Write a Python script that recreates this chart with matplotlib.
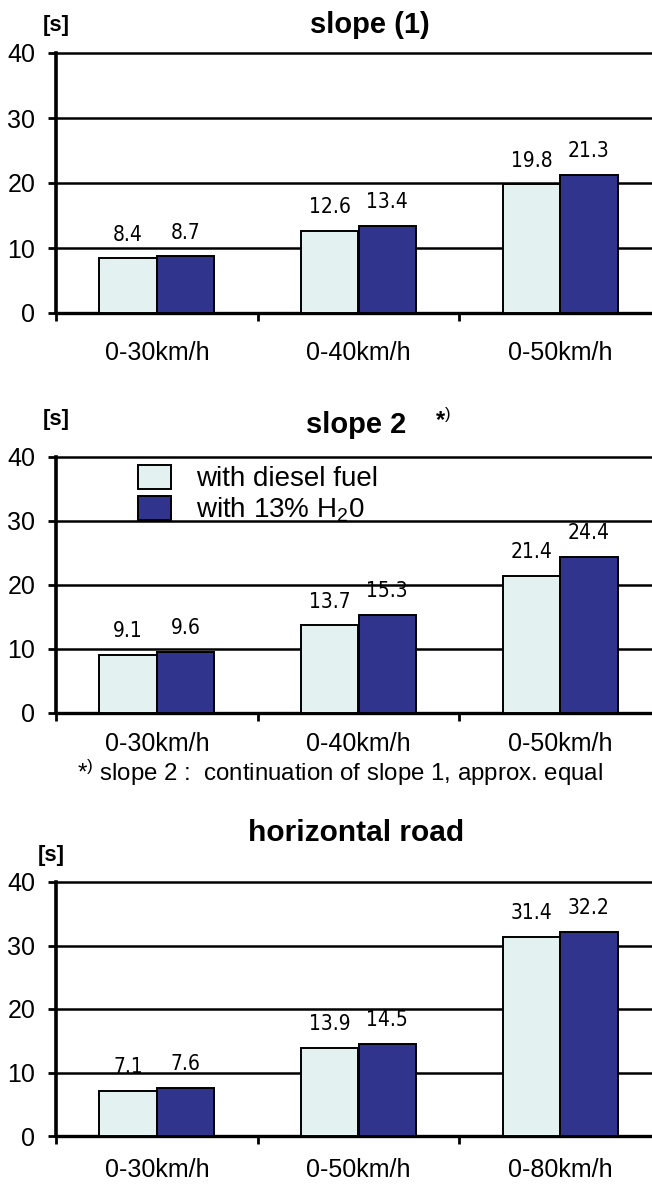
import matplotlib.pyplot as plt
import matplotlib.font_manager as fm
import numpy as np

plt.rcParams['font.family'] = ['Liberation Sans', 'DejaVu Sans']
plt.rcParams['mathtext.fontset'] = 'custom'
plt.rcParams['mathtext.rm'] = 'Liberation Sans'
plt.rcParams['mathtext.it'] = 'Liberation Sans:italic'
plt.rcParams['mathtext.bf'] = 'Liberation Sans:bold'

# datos
cats_slope = ['0-30km/h', '0-40km/h', '0-50km/h']
cats_horiz = ['0-30km/h', '0-50km/h', '0-80km/h']
slope1_diesel = [8.4, 12.6, 19.8]
slope1_h2o = [8.7, 13.4, 21.3]
slope2_diesel = [9.1, 13.7, 21.4]
slope2_h2o = [9.6, 15.3, 24.4]
horiz_diesel = [7.1, 13.9, 31.4]
horiz_h2o = [7.6, 14.5, 32.2]
yticks = [0, 10, 20, 30, 40]
series_names = ['with diesel fuel', 'with 13% H$_{2}$0']

c_light = '#e3f1f1'
c_dark = '#30348c'

# fuente estrecha para los valores de las barras
narrow_fp = None
for key, size in (('LiberationSansNarrow-Regular', 17), ('DejaVuSansCondensed.ttf', 15)):
    hits = [f.fname for f in fm.fontManager.ttflist if key in f.fname]
    if hits:
        narrow_fp = fm.FontProperties(fname=hits[0], size=size)
        break
if narrow_fp is None:
    narrow_fp = fm.FontProperties(family='Liberation Sans', size=14)

W, H = 652, 1184
fig = plt.figure(figsize=(W / 100, H / 100), dpi=100)


def panel(top_px, bottom_px, cats, v1, v2, label_pad):
    left_px, right_px = 56, 661
    ax = fig.add_axes([left_px / W, 1 - bottom_px / H,
                       (right_px - left_px) / W, (bottom_px - top_px) / H])
    x = np.arange(len(cats))
    w = 0.285
    b1 = ax.bar(x - w / 2, v1, w, color=c_light, edgecolor='black', linewidth=1.4, zorder=3)
    b2 = ax.bar(x + w / 2, v2, w, color=c_dark, edgecolor='black', linewidth=1.4, zorder=3)
    for bars, vals in ((b1, v1), (b2, v2)):
        for r, v in zip(bars, vals):
            ax.annotate(f'{v:.1f}', (r.get_x() + r.get_width() / 2, v),
                        xytext=(0, 17), textcoords='offset points',
                        ha='center', va='center', fontproperties=narrow_fp, zorder=2)
    ax.set_xlim(-0.5, 2.5)
    ax.set_ylim(0, 40)
    ax.set_yticks(yticks)
    ax.tick_params(axis='y', labelsize=18, length=6, width=2, pad=9)
    ax.set_xticks(x)
    ax.set_xticklabels(cats, fontsize=18)
    ax.set_xticks([-0.5, 0.5, 1.5, 2.5], minor=True)
    ax.tick_params(axis='x', which='major', length=0, pad=label_pad)
    ax.tick_params(axis='x', which='minor', length=6, width=2)
    ax.grid(axis='y', color='black', linewidth=1.8, zorder=0)
    for gl in ax.get_ygridlines():
        gl.set_clip_on(False)
    ax.set_axisbelow(True)
    for s in ['top', 'right']:
        ax.spines[s].set_visible(False)
    ax.spines['left'].set_linewidth(2.6)
    ax.spines['bottom'].set_linewidth(2.4)
    return ax, b1, b2


ax1, _, _ = panel(53, 313, cats_slope, slope1_diesel, slope1_h2o, 20)
ax2, h1, h2 = panel(457, 713, cats_slope, slope2_diesel, slope2_h2o, 14)
ax3, _, _ = panel(882, 1136, cats_horiz, horiz_diesel, horiz_h2o, 16)

ax2.legend([h1, h2], series_names, loc='upper left', bbox_to_anchor=(0.135, 0.97),
           frameon=False, fontsize=20, handlelength=1.2, handleheight=0.95,
           handletextpad=0.9, labelspacing=0.12, borderpad=0, borderaxespad=0)


def fig_text(xp, yp, s, **kw):
    fig.text(xp / W, 1 - yp / H, s, ha='center', va='center', **kw)


fig_text(370, 25, 'slope (1)', fontsize=21, fontweight='bold')
fig_text(356, 425, 'slope 2', fontsize=21, fontweight='bold')
fig_text(443, 419, r'*$^{)}$', fontsize=17, fontweight='bold')
fig_text(356, 833, 'horizontal road', fontsize=21.5, fontweight='bold')
fig_text(56, 25, '[s]', fontsize=16, fontweight='bold')
fig_text(56, 420, '[s]', fontsize=16, fontweight='bold')
fig_text(51, 855, '[s]', fontsize=16, fontweight='bold')
fig_text(340, 773, r'*$^{)}$ slope 2 :  continuation of slope 1, approx. equal', fontsize=17.3)

fig.savefig('out.png', dpi=100)
